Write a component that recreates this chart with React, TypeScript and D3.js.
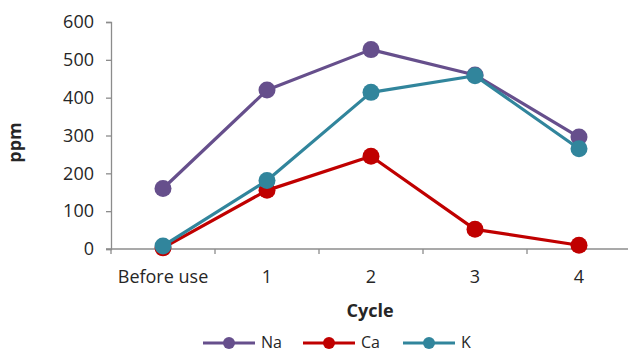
import React, { useEffect, useRef } from "react";
import * as d3 from "d3";

const categories = ["Before use", "1", "2", "3", "4"];
const naValues = [160, 420, 527, 460, 296];
const caValues = [3, 155, 245, 52, 10];
const kValues = [8, 181, 414, 458, 265];
const yTicks = [0, 100, 200, 300, 400, 500, 600];
const seriesNames = ["Na", "Ca", "K"];
const seriesColors = ["#664f8c", "#c00000", "#31859c"];

const W = 628;
const H = 352;
const FONT = "'Open Sans', 'Noto Sans', sans-serif";

export default function App() {
  const ref = useRef<SVGSVGElement | null>(null);

  useEffect(() => {
    const svg = d3.select(ref.current);
    svg.selectAll("*").remove();

    const left = 111;
    const right = 631;
    const top = 22;
    const bottom = 249;

    const x = d3.scaleBand<string>().domain(categories).range([left, right]);
    const y = d3.scaleLinear().domain([0, 600]).range([bottom, top]);

    const axisColor = "#8c8c8c";
    const textColor = "#262626";

    // y axis
    const yAxis = svg.append("g").attr("transform", `translate(${left},0)`)
      .call(d3.axisLeft(y).tickValues(yTicks).tickSize(5).tickPadding(12));
    yAxis.select(".domain").attr("stroke", axisColor).attr("stroke-width", 1.3);
    yAxis.selectAll(".tick line").attr("stroke", axisColor).attr("stroke-width", 1.3);
    yAxis.selectAll(".tick text")
      .attr("fill", textColor)
      .style("font-family", FONT)
      .style("font-size", "18px");

    // x axis with ticks at category boundaries
    const xg = svg.append("g").attr("transform", `translate(0,${bottom})`);
    xg.append("line").attr("x1", left - 5).attr("x2", right)
      .attr("stroke", axisColor).attr("stroke-width", 1.3);
    const bounds = categories.map((c) => x(c) as number).concat([right]);
    xg.selectAll("line.tk").data(bounds).enter().append("line")
      .attr("class", "tk")
      .attr("x1", (d) => d).attr("x2", (d) => d)
      .attr("y1", 0).attr("y2", 5)
      .attr("stroke", axisColor).attr("stroke-width", 1.3);
    xg.selectAll("text").data(categories).enter().append("text")
      .attr("x", (d) => (x(d) as number) + x.bandwidth() / 2)
      .attr("y", 34)
      .attr("text-anchor", "middle")
      .attr("fill", textColor)
      .style("font-family", FONT)
      .style("font-size", "18px")
      .text((d) => d);

    // axis titles
    svg.append("text")
      .attr("transform", `translate(21,${(top + bottom) / 2 + 7}) rotate(-90)`)
      .attr("text-anchor", "middle")
      .attr("fill", textColor)
      .style("font-family", FONT)
      .style("font-size", "18px")
      .style("font-weight", "bold")
      .text("ppm");
    svg.append("text")
      .attr("x", 370)
      .attr("y", 317)
      .attr("text-anchor", "middle")
      .attr("fill", textColor)
      .style("font-family", FONT)
      .style("font-size", "18px")
      .style("font-weight", "bold")
      .text("Cycle");

    // series
    const all = [naValues, caValues, kValues];
    const line = d3.line<number>()
      .x((_, i) => (x(categories[i]) as number) + x.bandwidth() / 2)
      .y((d) => y(d));

    all.forEach((vals, si) => {
      const g = svg.append("g");
      g.append("path")
        .datum(vals)
        .attr("d", line)
        .attr("fill", "none")
        .attr("stroke", seriesColors[si])
        .attr("stroke-width", 3.2)
        .attr("stroke-linejoin", "round");
      g.selectAll("circle").data(vals).enter().append("circle")
        .attr("cx", (_, i) => (x(categories[i]) as number) + x.bandwidth() / 2)
        .attr("cy", (d) => y(d))
        .attr("r", 8.5)
        .attr("fill", seriesColors[si]);
    });

    // legend
    const legendX = [203, 303, 403];
    const ly = 343;
    seriesNames.forEach((name, i) => {
      const g = svg.append("g");
      g.append("line")
        .attr("x1", legendX[i]).attr("x2", legendX[i] + 52)
        .attr("y1", ly).attr("y2", ly)
        .attr("stroke", seriesColors[i]).attr("stroke-width", 3.2);
      g.append("circle")
        .attr("cx", legendX[i] + 26).attr("cy", ly).attr("r", 6)
        .attr("fill", seriesColors[i]);
      g.append("text")
        .attr("x", legendX[i] + 58)
        .attr("y", ly + 5)
        .attr("fill", textColor)
        .style("font-family", FONT)
        .style("font-size", "16px")
        .text(name);
    });
  }, []);

  return (
    <svg ref={ref} width={W} height={H}
      style={{ position: "absolute", left: 0, top: 0, background: "#fff" }} />
  );
}
